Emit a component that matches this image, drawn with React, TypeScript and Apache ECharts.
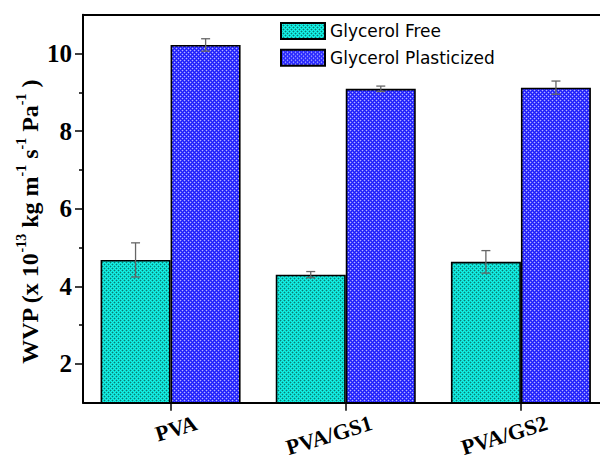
import React, { useEffect, useRef } from "react";
import * as echarts from "echarts";

// Water vapour permeability of films, with and without glycerol
const categories = ["PVA", "PVA/GS1", "PVA/GS2"];
const seriesNames = ["Glycerol Free", "Glycerol Plasticized"];
const glycerolFree = [4.68, 4.3, 4.63];
const glycerolFreeErr = [0.44, 0.08, 0.29];
const glycerolPlasticized = [10.22, 9.09, 9.12];
const glycerolPlasticizedErr = [0.16, 0.07, 0.17];
const yRange = [1, 11];
const majorTicks = [2, 4, 6, 8, 10];
const minorTicks = [3, 5, 7, 9];

const SERIF = "'Liberation Serif', 'Times New Roman', serif";
const SANS = "'DejaVu Sans', Arial, sans-serif";

// small repeating tile giving the dotted hatch fill
function makeTile(base: string, dot: string, mid: string): HTMLCanvasElement {
  const c = document.createElement("canvas");
  c.width = 4;
  c.height = 4;
  const g = c.getContext("2d")!;
  g.fillStyle = base;
  g.fillRect(0, 0, 4, 4);
  g.fillStyle = mid;
  [[1, 0], [0, 1], [3, 0], [0, 3], [3, 2], [2, 3], [1, 2], [2, 1]].forEach(([x, y]) => g.fillRect(x, y, 1, 1));
  g.fillStyle = dot;
  g.fillRect(0, 0, 1, 1);
  g.fillRect(2, 2, 1, 1);
  return c;
}

function errorSeries(values: number[], errs: number[], side: number) {
  return {
    type: "custom",
    z: 5,
    silent: true,
    data: values.map((v, i) => [i, v - errs[i], v + errs[i]]),
    encode: { x: 0, y: [1, 2] },
    renderItem: (params: any, api: any) => {
      const ci = api.value(0);
      const lo = api.value(1);
      const hi = api.value(2);
      const band = api.size([1, 0])[0];
      const shift = (side * band) / 5;
      const top = api.coord([ci, hi]);
      const bot = api.coord([ci, lo]);
      const x = top[0] + shift;
      const cap = 4.5;
      const style = { stroke: "#666", lineWidth: 1.3 };
      return {
        type: "group",
        children: [
          { type: "line", shape: { x1: x, y1: top[1], x2: x, y2: bot[1] }, style },
          { type: "line", shape: { x1: x - cap, y1: top[1], x2: x + cap, y2: top[1] }, style },
          { type: "line", shape: { x1: x - cap, y1: bot[1], x2: x + cap, y2: bot[1] }, style },
        ],
      };
    },
  };
}

export default function App() {
  const ref = useRef<HTMLDivElement>(null);

  useEffect(() => {
    if (!ref.current) return;
    const chart = echarts.init(ref.current, null, { renderer: "svg" });

    const tealTile = makeTile("#12f5ea", "#087a72", "#10c8be");
    const blueTile = makeTile("#1c1cfa", "#b4b4ff", "#4646ff");
    const tealFill = { image: tealTile, repeat: "repeat", imageWidth: 4, imageHeight: 4 };
    const blueFill = { image: blueTile, repeat: "repeat", imageWidth: 4, imageHeight: 4 };

    const axisLine = { show: true, lineStyle: { color: "#000", width: 2 } };

    const option: any = {
      animation: false,
      backgroundColor: "#fff",
      grid: { left: 83, top: 14.7, right: 0.5, bottom: 58.3 },
      legend: {
        data: seriesNames,
        orient: "vertical",
        left: 280,
        top: 22,
        padding: 0,
        itemWidth: 44,
        itemHeight: 16,
        itemGap: 8.7,
        icon: "rect",
        textStyle: { fontFamily: SANS, fontSize: 17, color: "#000" },
      },
      xAxis: [
        {
          type: "category",
          data: categories,
          position: "bottom",
          axisLine,
          axisTick: { show: true, alignWithLabel: true, length: 8, lineStyle: { color: "#000", width: 1.5 } },
          axisLabel: { show: false },
          splitLine: { show: false },
        },
        {
          type: "category",
          data: categories,
          position: "top",
          axisLine,
          axisTick: { show: false },
          axisLabel: { show: false },
        },
      ],
      yAxis: [
        {
          type: "value",
          min: yRange[0],
          max: yRange[1],
          position: "left",
          axisLine,
          axisTick: { show: true, customValues: majorTicks, length: 8, lineStyle: { color: "#000", width: 1.5 } },
          axisLabel: {
            customValues: majorTicks,
            fontFamily: SERIF,
            fontWeight: "bold",
            fontSize: 25,
            color: "#000",
            margin: 11,
          },
          splitLine: { show: false },
        },
        {
          type: "value",
          min: yRange[0],
          max: yRange[1],
          position: "left",
          axisLine: { show: false },
          axisTick: { show: true, customValues: minorTicks, length: 4, lineStyle: { color: "#000", width: 1.5 } },
          axisLabel: { show: false },
          splitLine: { show: false },
        },
      ],
      series: [
        {
          name: seriesNames[0],
          type: "bar",
          data: glycerolFree,
          barWidth: 70,
          barGap: "0%",
          itemStyle: { color: tealFill, borderColor: "#000", borderWidth: 1.6 },
        },
        {
          name: seriesNames[1],
          type: "bar",
          data: glycerolPlasticized,
          barWidth: 70,
          barGap: "0%",
          itemStyle: { color: blueFill, borderColor: "#000", borderWidth: 1.6 },
        },
        errorSeries(glycerolFree, glycerolFreeErr, -1),
        errorSeries(glycerolPlasticized, glycerolPlasticizedErr, 1),
      ],
    };
    chart.setOption(option);

    // axis title and rotated category labels
    const axisY = chart.convertToPixel({ yAxisIndex: 0 }, yRange[0]) as number;
    const catLabels = categories.map((c, i) => {
      const px = chart.convertToPixel({ xAxisIndex: 0 }, i) as number;
      return {
        type: "text",
        x: px + 29,
        y: axisY + 30,
        rotation: (17 * Math.PI) / 180,
        style: {
          text: c,
          align: "right",
          verticalAlign: "bottom",
          fontFamily: SERIF,
          fontWeight: "bold",
          fontSize: 22,
          fill: "#000",
        },
      };
    });
    chart.setOption({
      graphic: [
        {
          type: "text",
          x: 28,
          y: 222,
          rotation: Math.PI / 2,
          style: {
            text: "{b|WVP (x 10}{s|-13}{b| kg m}{s|-1}{b| s}{s|-1}{b| Pa}{s|-1}{b| )}",
            align: "center",
            verticalAlign: "middle",
            rich: {
              b: { fontFamily: SERIF, fontWeight: "bold", fontSize: 24, lineHeight: 28, verticalAlign: "bottom", fill: "#000" },
              s: { fontFamily: SERIF, fontWeight: "bold", fontSize: 14, lineHeight: 14, verticalAlign: "top", fill: "#000" },
            },
          },
        },
        ...catLabels,
      ],
    });

    return () => chart.dispose();
  }, []);

  return (
    <div style={{ position: "absolute", left: 0, top: 0, width: 600, height: 461, overflow: "hidden", background: "#fff" }}>
      <div ref={ref} style={{ width: 609, height: 461 }} />
    </div>
  );
}
